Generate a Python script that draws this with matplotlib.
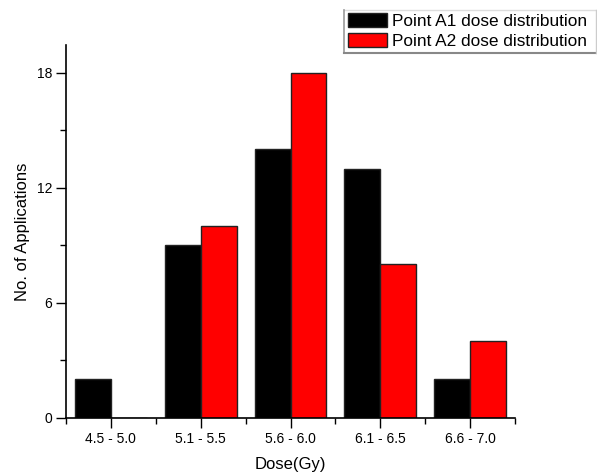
import matplotlib
matplotlib.use("Agg")
import matplotlib.pyplot as plt
from matplotlib.ticker import MultipleLocator, FixedLocator
from matplotlib.lines import Line2D
import numpy as np

plt.rcParams['font.family'] = ['Liberation Sans', 'DejaVu Sans']

categories = ["4.5 - 5.0", "5.1 - 5.5", "5.6 - 6.0", "6.1 - 6.5", "6.6 - 7.0"]
a1_values = [2, 9, 14, 13, 2]
a2_values = [0, 10, 18, 8, 4]
series_labels = ["Point A1 dose distribution", "Point A2 dose distribution"]

W, H = 597, 472
fig = plt.figure(figsize=(W/100, H/100), dpi=100)
ax = fig.add_axes([66/W, 1-417.7/H, (515-66)/W, (417.7-45)/H])

x = np.arange(1, len(categories)+1)
w = 0.4
b1 = ax.bar(x - w/2, a1_values, w, color='black', edgecolor='#222222', linewidth=1.0, label=series_labels[0])
b2 = ax.bar(x + w/2, a2_values, w, color='#ff0000', edgecolor='#222222', linewidth=1.0, label=series_labels[1])

ax.set_xlim(0.5, 5.5)
ax.set_ylim(0, 19.45)
ax.set_xticks(x)
ax.set_xticklabels(categories, fontsize=10)
ax.xaxis.set_minor_locator(FixedLocator(np.arange(0.5, 5.6, 1.0)))
ax.set_yticks([0, 6, 12, 18])
ax.yaxis.set_minor_locator(MultipleLocator(3))
ax.tick_params(axis='both', which='major', direction='out', length=7, width=1, labelsize=10, pad=3)
ax.tick_params(axis='both', which='minor', direction='out', length=4, width=1)
for s in ['top', 'right']:
    ax.spines[s].set_visible(False)
for s in ['left', 'bottom']:
    ax.spines[s].set_linewidth(1.2)

ax.set_xlabel("Dose(Gy)", fontsize=12, labelpad=8)
ax.set_ylabel("No. of Applications", fontsize=12, labelpad=5)

# legend box (drawn as figure lines)
x0, x1, y0, y1 = 344/W, 596/W, 1-10/H, 1-53/H
fig.add_artist(Line2D([x0, x1], [y0, y0], transform=fig.transFigure, color='#dddddd', lw=1))
fig.add_artist(Line2D([x0, x0], [y0, y1], transform=fig.transFigure, color='#999999', lw=1.2))
fig.add_artist(Line2D([x0, x1], [y1, y1], transform=fig.transFigure, color='#888888', lw=1.5))
fig.add_artist(Line2D([x1, x1], [y0, y1], transform=fig.transFigure, color='#cccccc', lw=1))

leg = fig.legend(handles=[b1, b2], labels=series_labels, loc='upper left',
                 bbox_to_anchor=(347.7/W, 1-13/H), fontsize=12.4, frameon=False,
                 handlelength=2.3, handleheight=0.85, handletextpad=0.3,
                 labelspacing=0.25, borderpad=0, borderaxespad=0)

fig.savefig("out.png", dpi=100)
